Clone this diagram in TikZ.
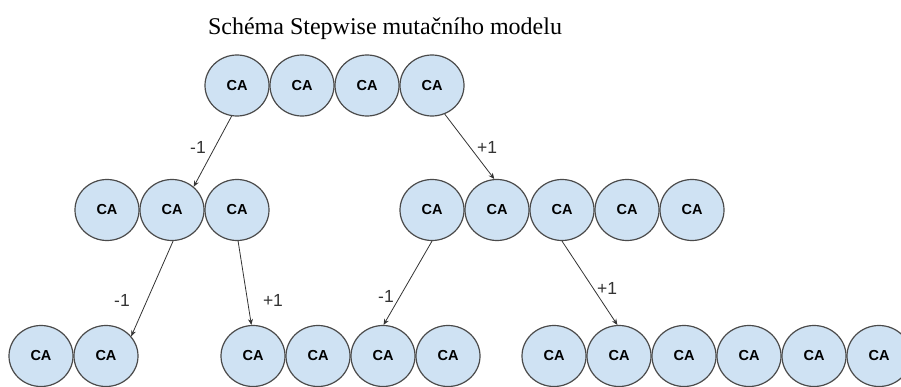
\documentclass[tikz,border=0pt]{standalone}
\usepackage{fontspec}
\setmainfont{Liberation Serif}
\newfontfamily\arialfont{Liberation Sans}
\usepackage{tikz}
\usetikzlibrary{shapes.geometric,arrows.meta}
\definecolor{cafill}{HTML}{CFE2F3}
\definecolor{caline}{HTML}{4A4A4A}
\definecolor{arrline}{HTML}{333333}

\begin{document}
\begin{tikzpicture}[x=1pt,y=-1pt,
        ca/.style={shape=ellipse,draw=caline,fill=cafill,line width=1.2pt,
            minimum width=64pt,minimum height=61pt,inner sep=0pt,
            font=\arialfont\bfseries\fontsize{14.5}{16}\selectfont},
        lbl/.style={font=\arialfont\fontsize{17.5}{19}\selectfont,text=arrline,inner sep=0pt},
        mutarrow/.style={-{Stealth[length=6pt,width=5pt]},draw=arrline,line width=0.8pt}]
        \useasboundingbox (0,0) rectangle (901,387);

        \node[font=\fontsize{24}{28}\selectfont,anchor=base] (title) at (385,35) {Schéma Stepwise mutačního modelu};

        % top row
        \node[ca] (t1) at (237,85.5) {CA};
        \node[ca] (t2) at (302,85.5) {CA};
        \node[ca] (t3) at (367,85.5) {CA};
        \node[ca] (t4) at (432,85.5) {CA};

        % second row, left
        \node[ca] (l1) at (107,210) {CA};
        \node[ca] (l2) at (172,210) {CA};
        \node[ca] (l3) at (237,210) {CA};

        % second row, right
        \node[ca] (r1) at (432,210) {CA};
        \node[ca] (r2) at (497,210) {CA};
        \node[ca] (r3) at (562,210) {CA};
        \node[ca] (r4) at (627,210) {CA};
        \node[ca] (r5) at (692,210) {CA};

        % bottom row
        \node[ca] (a1) at (41,356) {CA};
        \node[ca] (a2) at (106,356) {CA};

        \node[ca] (b1) at (253,356) {CA};
        \node[ca] (b2) at (318,356) {CA};
        \node[ca] (b3) at (383,356) {CA};
        \node[ca] (b4) at (448,356) {CA};

        \node[ca] (c1) at (554,356) {CA};
        \node[ca] (c2) at (619,356) {CA};
        \node[ca] (c3) at (684,356) {CA};
        \node[ca] (c4) at (749,356) {CA};
        \node[ca] (c5) at (814,356) {CA};
        \node[ca] (c6) at (879,356) {CA};

        \draw [mutarrow](t1.260) -- (l2.47);
        \draw [mutarrow](t4.294) -- (r2.95);
        \draw [mutarrow](l2.272) -- (a2.38);
        \draw [mutarrow](l3.272) -- (b1.93);
        \draw [mutarrow](r1.270) -- (b3.89);
        \draw [mutarrow](r3.270) -- (c2.93);

        \node[lbl] (m1) at (198,147) {-1};
        \node[lbl] (p1) at (487,147) {+1};
        \node[lbl] (m2) at (122,300) {-1};
        \node[lbl] (p2) at (273,300) {+1};
        \node[lbl] (m3) at (386,296) {-1};
        \node[lbl] (p3) at (607,288) {+1};
    \end{tikzpicture}
\end{document}
